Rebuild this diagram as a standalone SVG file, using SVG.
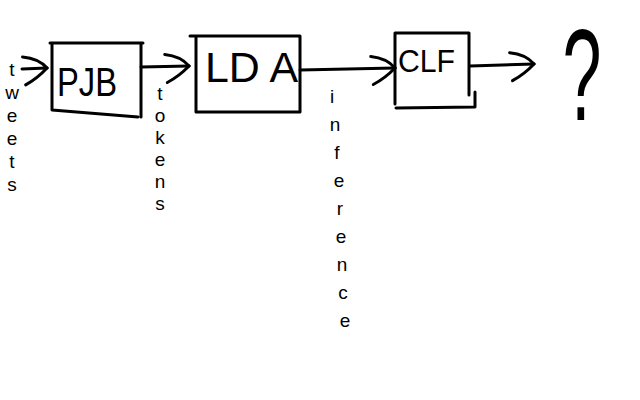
<svg xmlns="http://www.w3.org/2000/svg" width="640" height="400" viewBox="0 0 640 400">
<style>
.box{fill:none;stroke:#000;stroke-width:3;stroke-linejoin:round;stroke-linecap:round}
.edge{fill:none;stroke:#000;stroke-width:3;stroke-linecap:round}
.lbl{font-family:"Liberation Sans",Arial,sans-serif;fill:#000}
.vl{font-family:"Liberation Sans",Arial,sans-serif;fill:#000;font-size:19px;text-anchor:middle}
</style>
<defs>
<marker id="arr" markerUnits="userSpaceOnUse" viewBox="-30 -24 34 48" markerWidth="34" markerHeight="48" refX="0" refY="0" orient="auto">
<path d="M-24,-12 Q-8,-10 0,0 Q-10,10 -22,16" fill="none" stroke="#000" stroke-width="3" stroke-linecap="round"/>
</marker>
</defs>
<rect width="640" height="400" fill="#fff"/>
<g id="connectors">
<path class="edge" d="M22,69 L47,68" marker-end="url(#arr)"/>
<path class="edge" d="M141,67 L189,66" marker-end="url(#arr)"/>
<path class="edge" d="M300,70 L395,68" marker-end="url(#arr)"/>
<path class="edge" d="M470,66 L534,64" marker-end="url(#arr)"/>
</g>
<g id="tweets">
<text class="vl"><tspan x="12" y="76">t</tspan><tspan x="12" y="99">w</tspan><tspan x="12" y="122">e</tspan><tspan x="12" y="145">e</tspan><tspan x="12" y="168">t</tspan><tspan x="12" y="191">s</tspan></text>
</g>
<g id="pjb">
<path class="box" d="M50,43 L143,43 M52,43 L52,110 L138,117 M141,43 L141,117"/>
<text class="lbl" x="57" y="96" font-size="40" textLength="60" lengthAdjust="spacingAndGlyphs">PJB</text>
</g>
<g id="tokens">
<text class="vl" font-size="18"><tspan x="160" y="100">t</tspan><tspan x="160" y="122">o</tspan><tspan x="160" y="144">k</tspan><tspan x="160" y="166">e</tspan><tspan x="160" y="188">n</tspan><tspan x="160" y="210">s</tspan></text>
</g>
<g id="lda">
<path class="box" d="M190,36 L300,36 L300,112 L196,112 L196,36"/>
<text class="lbl" x="205" y="82" font-size="42" textLength="93" lengthAdjust="spacingAndGlyphs">LD A</text>
</g>
<g id="inference">
<text class="vl" font-size="24"><tspan x="332" y="103">i</tspan><tspan x="335" y="131">n</tspan><tspan x="337" y="159">f</tspan><tspan x="339" y="187">e</tspan><tspan x="340" y="215">r</tspan><tspan x="341" y="243">e</tspan><tspan x="342" y="271">n</tspan><tspan x="343" y="299">c</tspan><tspan x="345" y="327">e</tspan></text>
</g>
<g id="clf">
<path class="box" d="M395,33 L469,33 M395,33 L395,104 M469,33 L469,95 M396,108 L475,107 L475,92"/>
<text class="lbl" x="398" y="72" font-size="32" textLength="57" lengthAdjust="spacingAndGlyphs">CLF</text>
</g>
<g id="result">
<text class="lbl" x="0" y="0" font-size="100" text-anchor="middle" transform="translate(582,120) scale(0.7,1.3)">?</text>
</g>
</svg>
